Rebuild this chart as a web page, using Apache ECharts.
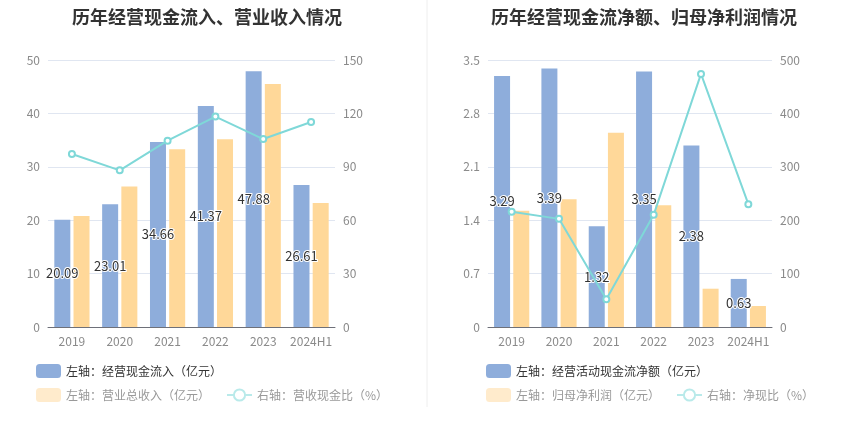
<!DOCTYPE html>
<html>
<head>
<meta charset="utf-8">
<script src="https://cdn.jsdelivr.net/npm/echarts@6/dist/echarts.min.js"></script>
<style>html,body{margin:0;padding:0;background:#fff}#c{width:850px;height:437px}</style>
</head>
<body>
<div id="c"></div>
<script>
var categories = ['2019','2020','2021','2022','2023','2024H1'];
// left chart
var cashInflow = [20.09, 23.01, 34.66, 41.37, 47.88, 26.61];
var revenue = [20.8, 26.3, 33.3, 35.15, 45.5, 23.2];
var cashRevRatio = [97.2, 88.0, 104.7, 118.2, 105.6, 115.2];
// right chart
var netCashFlow = [3.29, 3.39, 1.32, 3.35, 2.38, 0.63];
var netProfit = [1.524, 1.674, 2.547, 1.595, 0.502, 0.275];
var netCashRatio = [216, 202.5, 52, 210, 474, 230];

var names = {
  a1: '左轴：经营现金流入（亿元）', a2: '左轴：营业总收入（亿元）', a3: '右轴：营收现金比（%）',
  b1: '左轴：经营活动现金流净额（亿元）', b2: '左轴：归母净利润（亿元）', b3: '右轴：净现比（%）'
};
var BLUE = '#8eaddb', YEL = '#ffd899', CYAN = '#7fd8d8';
var FONT = '"Noto Sans CJK SC", sans-serif';
var axisLabel = {color: '#8a8a8a', fontSize: 12, fontFamily: FONT};
function yAx(gi, min, max, itv, pos, split) {
  return {type: 'value', gridIndex: gi, min: min, max: max, interval: itv, position: pos,
    axisLine: {show: false}, axisTick: {show: false}, axisLabel: axisLabel,
    splitLine: {show: split, lineStyle: {color: '#e0e6f1'}}};
}
function xAx(gi) {
  return {type: 'category', gridIndex: gi, data: categories,
    axisLine: {lineStyle: {color: '#6e7079'}}, axisTick: {alignWithLabel: true, lineStyle: {color: '#6e7079'}},
    axisLabel: Object.assign({interval: 0}, axisLabel)};
}
var barLabel = {show: true, position: 'inside', color: '#333', fontSize: 13, fontFamily: FONT,
  textBorderColor: '#fff', textBorderWidth: 2};
function legendRow(left, top, data) {
  return {left: left, top: top, itemWidth: 25, itemHeight: 14, itemGap: 16,
    textStyle: {fontFamily: FONT, fontSize: 12, color: '#333'}, data: data};
}
function faded(name, isLine) {
  var o = {name: name, textStyle: {color: '#999'}};
  if (isLine) {
    o.itemStyle = {color: '#b9eaea'};
    o.lineStyle = {color: '#b9eaea', width: 2, type: 'solid'};
  }
  else o.itemStyle = {color: '#ffebcc'};
  return o;
}
var option = {
  animation: false,
  title: [
    {text: '历年经营现金流入、营业收入情况', left: 202, top: 3, textAlign: 'center',
      textStyle: {fontSize: 18, fontWeight: 'bold', color: '#333', fontFamily: FONT}},
    {text: '历年经营现金流净额、归母净利润情况', left: 639, top: 3, textAlign: 'center',
      textStyle: {fontSize: 18, fontWeight: 'bold', color: '#333', fontFamily: FONT}}
  ],
  graphic: [{type: 'line', shape: {x1: 427, y1: 0, x2: 427, y2: 407}, style: {stroke: '#eeeeee', lineWidth: 1}}],
  legend: [
    legendRow(31, 359, [{name: names.a1}]),
    legendRow(31, 383, [faded(names.a2), faded(names.a3, true)]),
    legendRow(481, 359, [{name: names.b1}]),
    legendRow(481, 383, [faded(names.b2), faded(names.b3, true)])
  ],
  grid: [
    {left: 48, right: 515, top: 60, bottom: 110},
    {left: 488, right: 78, top: 60, bottom: 110}
  ],
  xAxis: [xAx(0), xAx(1)],
  yAxis: [
    yAx(0, 0, 50, 10, 'left', true), yAx(0, 0, 150, 30, 'right', false),
    yAx(1, 0, 3.5, 0.7, 'left', true), yAx(1, 0, 500, 100, 'right', false)
  ],
  series: [
    {name: names.a1, type: 'bar', xAxisIndex: 0, yAxisIndex: 0, data: cashInflow, barWidth: 16, barGap: '20%',
      itemStyle: {color: BLUE}, label: barLabel},
    {name: names.a2, type: 'bar', xAxisIndex: 0, yAxisIndex: 0, data: revenue, barWidth: 16, barGap: '20%',
      itemStyle: {color: YEL}},
    {name: names.a3, type: 'line', xAxisIndex: 0, yAxisIndex: 1, data: cashRevRatio, symbol: 'emptyCircle', symbolSize: 6,
      itemStyle: {color: CYAN}, lineStyle: {color: CYAN, width: 2}},
    {name: names.b1, type: 'bar', xAxisIndex: 1, yAxisIndex: 2, data: netCashFlow, barWidth: 16, barGap: '20%',
      itemStyle: {color: BLUE}, label: barLabel},
    {name: names.b2, type: 'bar', xAxisIndex: 1, yAxisIndex: 2, data: netProfit, barWidth: 16, barGap: '20%',
      itemStyle: {color: YEL}},
    {name: names.b3, type: 'line', xAxisIndex: 1, yAxisIndex: 3, data: netCashRatio, symbol: 'emptyCircle', symbolSize: 6,
      itemStyle: {color: CYAN}, lineStyle: {color: CYAN, width: 2}}
  ]
};
echarts.init(document.getElementById('c'), null, {renderer: 'canvas'}).setOption(option);
</script>
</body>
</html>
